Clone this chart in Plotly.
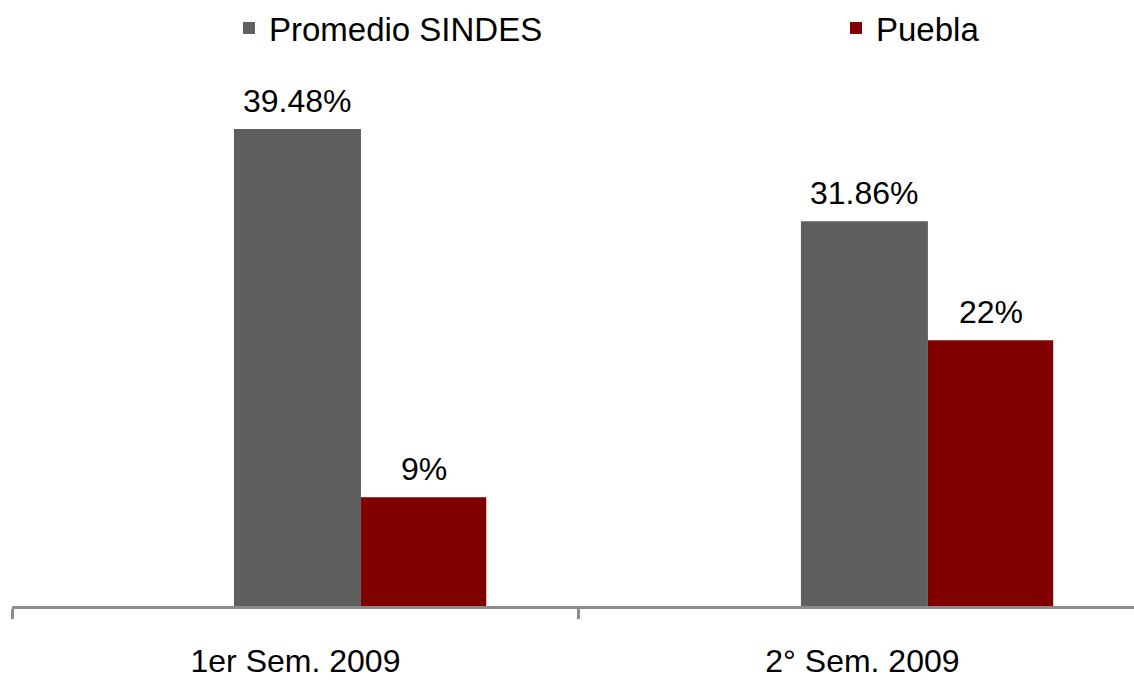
import plotly.graph_objects as go

categories = ["1er Sem. 2009", "2° Sem. 2009"]
promedio_sindes = [39.48, 31.86]
puebla = [9, 22]
promedio_labels = ["39.48%", "31.86%"]
puebla_labels = ["9%", "22%"]

FONT = "Liberation Sans, Arial, sans-serif"
x_pos = [0, 1]

# bar geometry inside each category (category units)
GRAY_W, GRAY_OFF = 0.224, -0.1085
RED_W, RED_OFF = 0.221, 0.1155

fig = go.Figure()
fig.add_trace(go.Bar(
    x=x_pos, y=promedio_sindes, name="Promedio SINDES",
    marker=dict(color="#5f5f5f", line=dict(width=0)),
    width=GRAY_W, offset=GRAY_OFF, legend="legend",
))
fig.add_trace(go.Bar(
    x=x_pos, y=puebla, name="Puebla",
    marker=dict(color="#800000", line=dict(width=0)),
    width=RED_W, offset=RED_OFF, legend="legend2",
))

# value labels above each bar
for vals, labels, w, off in [
    (promedio_sindes, promedio_labels, GRAY_W, GRAY_OFF),
    (puebla, puebla_labels, RED_W, RED_OFF),
]:
    for xp, v, lab in zip(x_pos, vals, labels):
        fig.add_annotation(
            x=xp + off + w / 2, y=v, text=lab, showarrow=False,
            xanchor="center", yanchor="bottom", yshift=8,
            font=dict(size=32, color="#000000", family=FONT),
        )

legend_style = dict(
    orientation="h", xref="container", yref="container",
    y=0.9588, xanchor="left", yanchor="middle",
    font=dict(size=33, family=FONT, color="#000000"),
    itemwidth=30, bgcolor="rgba(0,0,0,0)",
)

fig.update_layout(
    width=1134, height=680,
    margin=dict(l=12, r=0, t=60, b=74, autoexpand=False),
    plot_bgcolor="white", paper_bgcolor="white",
    font=dict(family=FONT, size=32, color="#000000"),
    showlegend=True,
    legend=dict(x=0.2019, **legend_style),
    legend2=dict(x=0.7372, **legend_style),
    xaxis=dict(
        range=[-0.5, 1.479], tickvals=x_pos, ticktext=categories,
        ticks="", showgrid=False, zeroline=False,
        showline=True, linecolor="#8c8c8c", linewidth=3,
        ticklabelstandoff=25,
        tickfont=dict(size=32, family=FONT, color="#000000"),
        minor=dict(tick0=-0.5, dtick=1, ticks="outside", ticklen=10,
                   tickwidth=3, tickcolor="#8c8c8c", showgrid=False),
    ),
    yaxis=dict(
        range=[0, 45.2], visible=False, showgrid=False, zeroline=False,
    ),
)

fig.write_html("out.html")
